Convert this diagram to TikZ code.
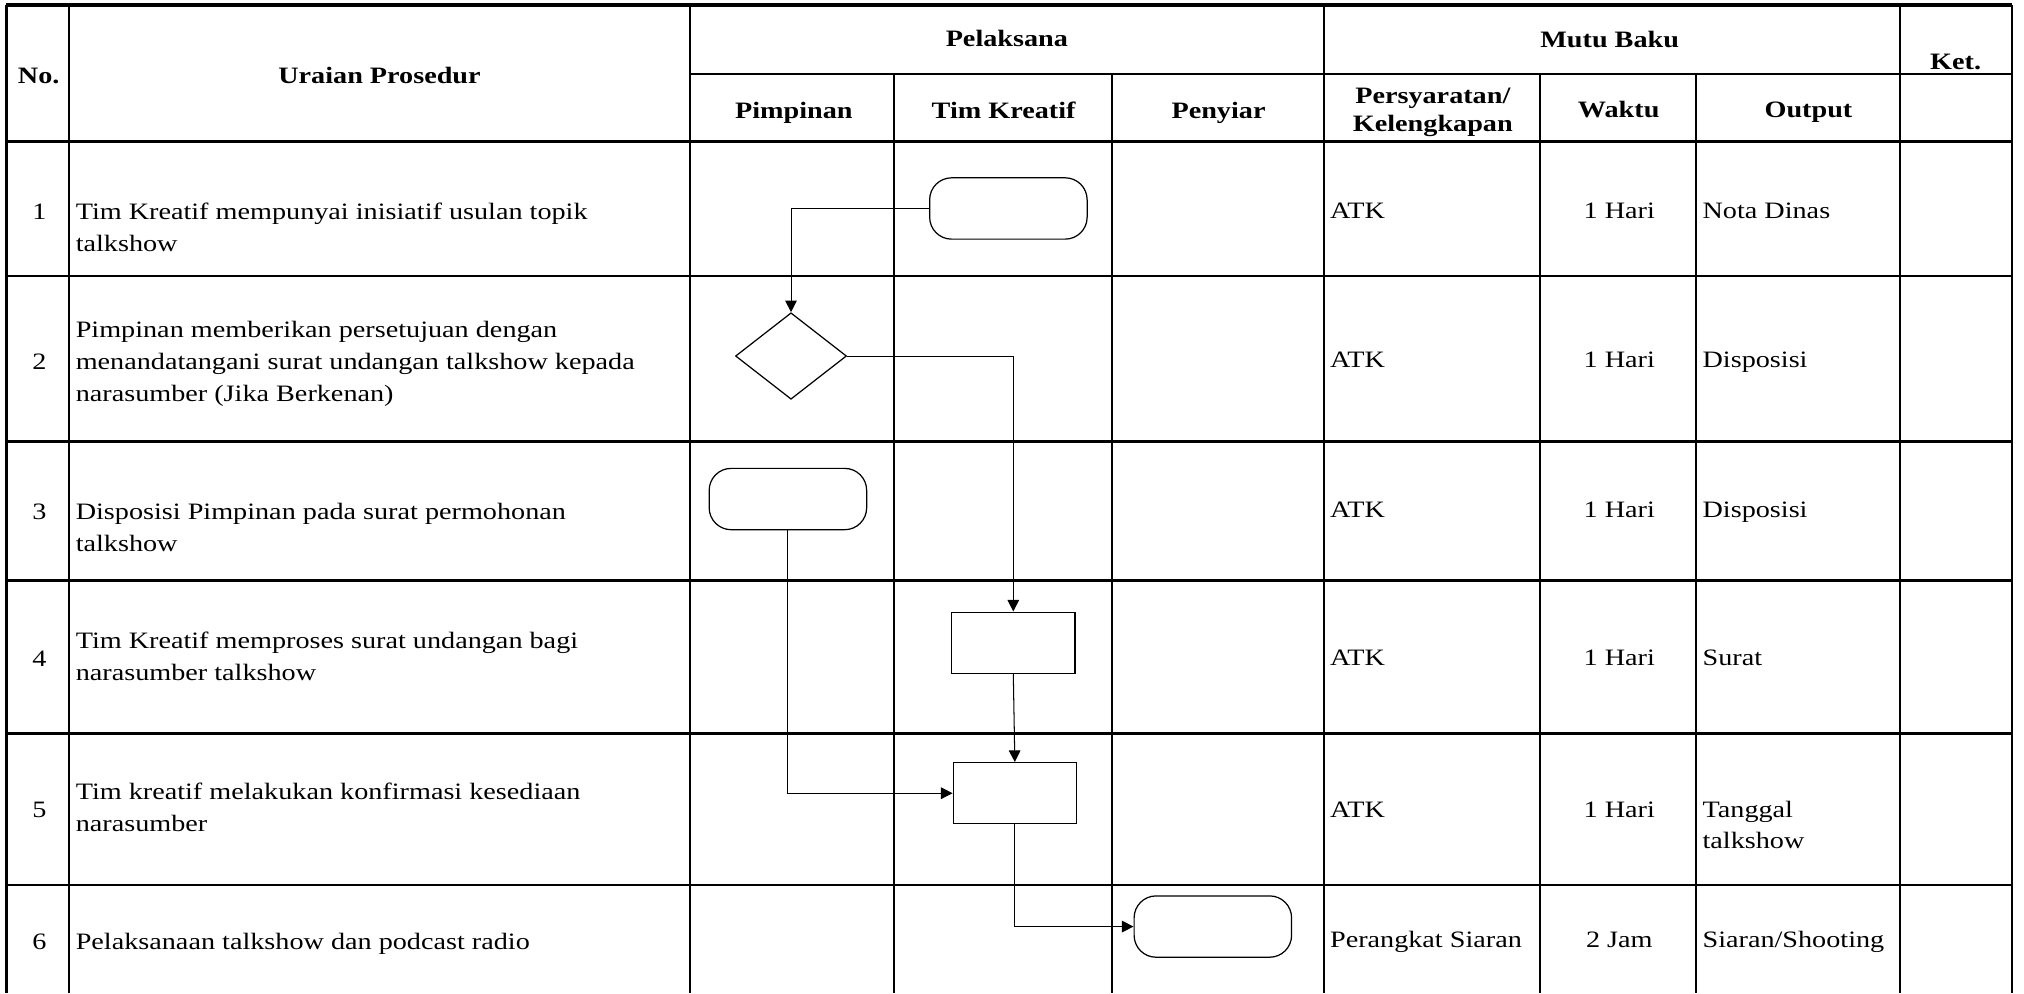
\documentclass[tikz,border=0pt]{standalone}
\usepackage{fontspec}
\setmainfont{Liberation Serif}[FakeStretch=1.2]
\usetikzlibrary{shapes.geometric,arrows.meta}
\newcommand\bodyfont{\fontsize{18.2}{24.5}\selectfont}
\begin{document}
\begin{tikzpicture}[x=1pt,y=-1pt,
  hline/.style={line width=2.1pt},
  vline/.style={line width=1.7pt},
  txt/.style={font=\bodyfont, inner sep=0pt, anchor=base west, align=left},
  ctxt/.style={font=\bodyfont, inner sep=0pt, anchor=base, align=center},
  hdr/.style={font=\bodyfont\bfseries, inner sep=0pt, anchor=base, align=center},
  term/.style={draw, line width=0.95pt, rounded corners=17pt, minimum width=122pt, minimum height=47.5pt, inner sep=0pt},
  proc/.style={draw, line width=0.95pt, minimum width=95.5pt, minimum height=47.4pt, inner sep=0pt},
  dec/.style={draw, diamond, line width=0.95pt, minimum width=86pt, minimum height=67pt, inner sep=0pt},
  conn/.style={line width=0.8pt, -{Triangle[length=9pt,width=9pt]}}
]
\useasboundingbox (0,0) rectangle (1568,769.3);

% ---- table grid ----
\draw[hline, line width=2.6pt] (5,3.9) -- (1558.8,3.9);
\draw[hline] (534.3,57.3) -- (1558.8,57.3);
\foreach \yy in {109.8,213.8,342.1,449.8,568,685.5}
  \draw[hline] (5,\yy) -- (1558.8,\yy);
\foreach \xx in {5,53.6,534.3,1025.7,1471.7,1558.8}
  \draw[vline] (\xx,3.9) -- (\xx,769.3);
\foreach \xx in {692.5,861.6,1193,1313.8}
  \draw[vline] (\xx,57.3) -- (\xx,769.3);

% ---- headers ----
\node[hdr] (hNo) at (30,65) {No.};
\node[hdr] (hUr) at (294,65) {Uraian Prosedur};
\node[hdr] (hPel) at (780,36) {Pelaksana};
\node[hdr] (hMutu) at (1247,36.5) {Mutu Baku};
\node[hdr] (hKet) at (1515,53.5) {Ket.};
\node[hdr] (hPim) at (615,91.5) {Pimpinan};
\node[hdr] (hTim) at (777.5,91.5) {Tim Kreatif};
\node[hdr] (hPen) at (944,91.5) {Penyiar};
\node[hdr] (hPer) at (1110,102) {Persyaratan/\\[-2.5pt]Kelengkapan};
\node[hdr] (hWak) at (1254,91) {Waktu};
\node[hdr] (hOut) at (1401,91) {Output};

% ---- numbers ----
\node[ctxt] (n1) at (30.5,170.4) {1};
\node[ctxt] (n2) at (30.5,286) {2};
\node[ctxt] (n3) at (30.5,402.6) {3};
\node[ctxt] (n4) at (30.5,516) {4};
\node[ctxt] (n5) at (30.5,633) {5};
\node[ctxt] (n6) at (30.5,735.9) {6};

% ---- procedure descriptions (anchored at last line's baseline) ----
\node[txt] (u1) at (58.5,194.6) {Tim Kreatif mempunyai inisiatif usulan topik\\talkshow};
\node[txt] (u2) at (58.5,310.8) {Pimpinan memberikan persetujuan dengan\\menandatangani surat undangan talkshow kepada\\narasumber (Jika Berkenan)};
\node[txt] (u3) at (58.5,427.1) {Disposisi Pimpinan pada surat permohonan\\talkshow};
\node[txt] (u4) at (58.5,526.8) {Tim Kreatif memproses surat undangan bagi\\narasumber talkshow};
\node[txt] (u5) at (58.5,644) {Tim kreatif melakukan konfirmasi kesediaan\\narasumber};
\node[txt] (u6) at (58.5,735.9) {Pelaksanaan talkshow dan podcast radio};

% ---- requirements ----
\node[txt] (p1) at (1030.2,169) {ATK};
\node[txt] (p2) at (1030.2,285) {ATK};
\node[txt] (p3) at (1030.2,401) {ATK};
\node[txt] (p4) at (1030.2,515.5) {ATK};
\node[txt] (p5) at (1030.2,633) {ATK};
\node[txt] (p6) at (1030.2,734.4) {Perangkat Siaran};

% ---- time ----
\node[ctxt] (w1) at (1254.5,169) {1 Hari};
\node[ctxt] (w2) at (1254.5,285) {1 Hari};
\node[ctxt] (w3) at (1254.5,401) {1 Hari};
\node[ctxt] (w4) at (1254.5,515.5) {1 Hari};
\node[ctxt] (w5) at (1254.5,633) {1 Hari};
\node[ctxt] (w6) at (1254.5,734.4) {2 Jam};

% ---- output ----
\node[txt] (o1) at (1318.8,169) {Nota Dinas};
\node[txt] (o2) at (1318.8,285) {Disposisi};
\node[txt] (o3) at (1318.8,401) {Disposisi};
\node[txt] (o4) at (1318.8,515.5) {Surat};
\node[txt] (o5) at (1318.8,657.7) {Tanggal\\talkshow};
\node[txt] (o6) at (1318.8,734.4) {Siaran/Shooting};

% ---- flowchart shapes ----
\node[term] (t1) at (781.2,161.5) {};
\node[dec]  (d2) at (612.8,275.8) {};
\node[term] (t3) at (610.4,386.6) {};
\node[proc] (r4) at (785,497.9) {};
\node[proc] (r5) at (786.2,614.5) {};
\node[term] (t6) at (939.6,717.8) {};

% ---- connectors ----
\draw[conn] (t1.west) -| (d2.north);
\draw[conn] (d2.east) -| (r4.north);
\draw[conn] (t3.south) |- (r5.west);
\draw[conn] (r4.south) -- (r5.north);
\draw[conn] (r5.south) |- (t6.west);
\end{tikzpicture}
\end{document}
